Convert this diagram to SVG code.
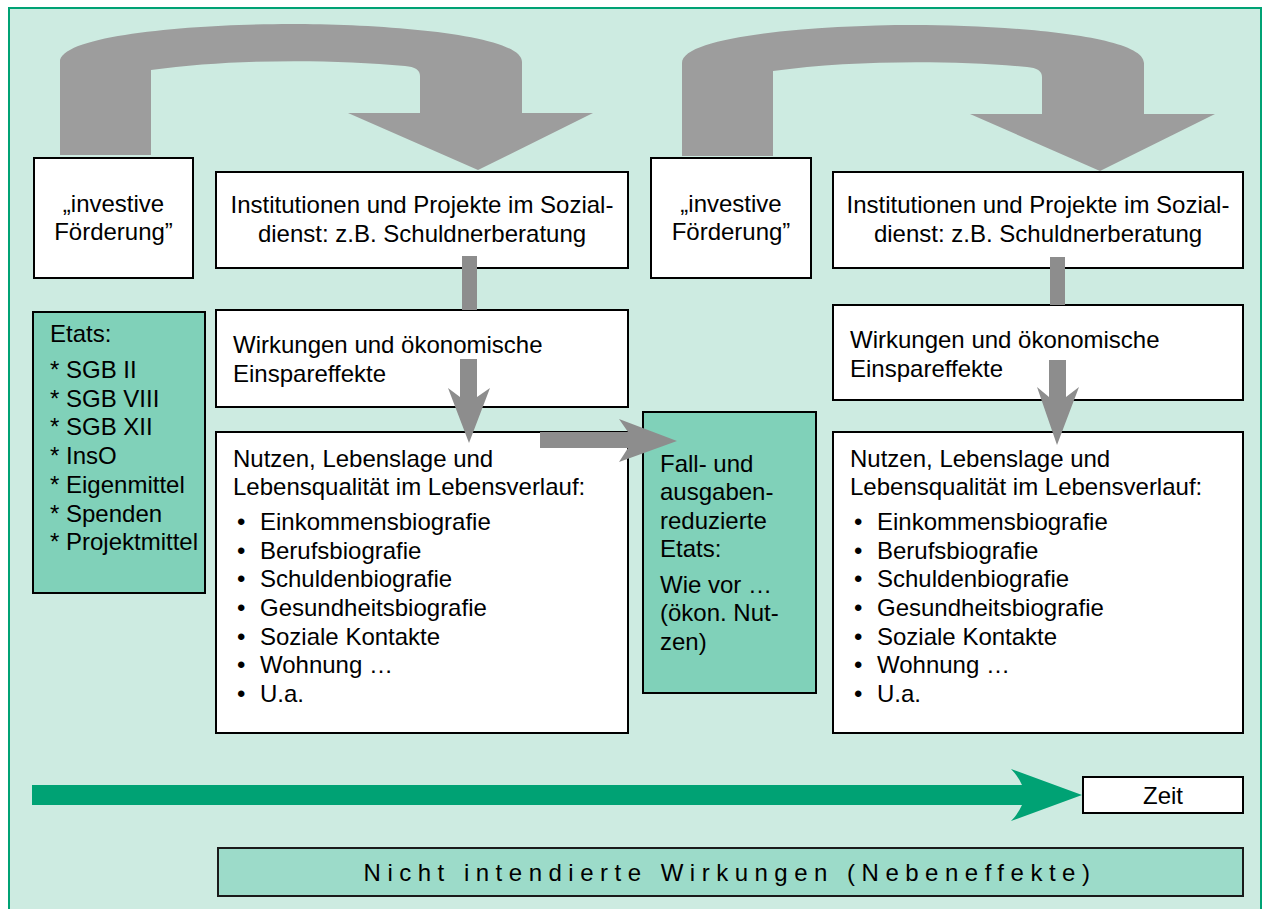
<svg xmlns="http://www.w3.org/2000/svg" width="1266" height="909" viewBox="0 0 1266 909">
<style>
  text { font-family: "Liberation Sans", Arial, sans-serif; font-size: 24px; fill: #000; }
  .c { text-anchor: middle; }
  .box { fill: #ffffff; stroke: #000; stroke-width: 2; }
  .teal { fill: #80d1b9; stroke: #000; stroke-width: 2; }
  .big { fill: #9d9d9d; }
  .small { fill: #8d8d8d; }
  .green { fill: #00a274; }
</style>
<rect x="9" y="8" width="1252" height="930" fill="#cdebe1" stroke="#00a274" stroke-width="2"/>

<g id="investive1"><rect class="box" x="34" y="158" width="159" height="120"/>
  <text class="c" x="113.5" y="212">„investive</text><text class="c" x="113.5" y="240">Förderung”</text></g>
<g id="institutionen1"><rect class="box" x="216" y="172" width="412" height="96"/>
  <text class="c" x="422" y="213">Institutionen und Projekte im Sozial-</text><text class="c" x="422" y="242">dienst: z.B. Schuldnerberatung</text></g>
<g id="etats"><rect class="teal" x="33" y="312" width="172" height="281"/>
  <text x="50" y="342">Etats:</text>
  <text x="50" y="378">* SGB II</text>
  <text x="50" y="407">* SGB VIII</text>
  <text x="50" y="435">* SGB XII</text>
  <text x="50" y="464">* InsO</text>
  <text x="50" y="493">* Eigenmittel</text>
  <text x="50" y="522">* Spenden</text>
  <text x="50" y="550">* Projektmittel</text></g>
<g id="wirkungen1"><rect class="box" x="216" y="310" width="412" height="97"/>
  <text x="233" y="353">Wirkungen und ökonomische</text><text x="233" y="382">Einspareffekte</text></g>
<g id="nutzen1"><rect class="box" x="216" y="432" width="412" height="301"/>
  <text x="233" y="467">Nutzen, Lebenslage und</text><text x="233" y="495">Lebensqualität im Lebensverlauf:</text>
  <text x="237" y="530">•</text><text x="260" y="530">Einkommensbiografie</text>
  <text x="237" y="559">•</text><text x="260" y="559">Berufsbiografie</text>
  <text x="237" y="587">•</text><text x="260" y="587">Schuldenbiografie</text>
  <text x="237" y="616">•</text><text x="260" y="616">Gesundheitsbiografie</text>
  <text x="237" y="645">•</text><text x="260" y="645">Soziale Kontakte</text>
  <text x="237" y="673">•</text><text x="260" y="673">Wohnung …</text>
  <text x="237" y="702">•</text><text x="260" y="702">U.a.</text></g>
<g id="fall"><rect class="teal" x="643" y="412" width="173" height="281"/>
  <text x="660" y="472">Fall- und</text>
  <text x="660" y="500">ausgaben-</text>
  <text x="660" y="529">reduzierte</text>
  <text x="660" y="557">Etats:</text>
  <text x="660" y="593">Wie vor …</text>
  <text x="660" y="621">(ökon. Nut-</text>
  <text x="660" y="650">zen)</text></g>

<g id="investive2"><rect class="box" x="651" y="158" width="160" height="120"/>
  <text class="c" x="731" y="212">„investive</text><text class="c" x="731" y="240">Förderung”</text></g>
<g id="institutionen2"><rect class="box" x="833" y="172" width="410" height="96"/>
  <text class="c" x="1038" y="213">Institutionen und Projekte im Sozial-</text><text class="c" x="1038" y="242">dienst: z.B. Schuldnerberatung</text></g>
<g id="wirkungen2"><rect class="box" x="833" y="305" width="410" height="95"/>
  <text x="850" y="348">Wirkungen und ökonomische</text><text x="850" y="377">Einspareffekte</text></g>
<g id="nutzen2"><rect class="box" x="833" y="432" width="410" height="301"/>
  <text x="850" y="467">Nutzen, Lebenslage und</text><text x="850" y="495">Lebensqualität im Lebensverlauf:</text>
  <text x="854" y="530">•</text><text x="877" y="530">Einkommensbiografie</text>
  <text x="854" y="559">•</text><text x="877" y="559">Berufsbiografie</text>
  <text x="854" y="587">•</text><text x="877" y="587">Schuldenbiografie</text>
  <text x="854" y="616">•</text><text x="877" y="616">Gesundheitsbiografie</text>
  <text x="854" y="645">•</text><text x="877" y="645">Soziale Kontakte</text>
  <text x="854" y="673">•</text><text x="877" y="673">Wohnung …</text>
  <text x="854" y="702">•</text><text x="877" y="702">U.a.</text></g>

<g id="zeit"><rect class="box" x="1083" y="777" width="160" height="36"/>
  <text class="c" x="1163" y="804">Zeit</text></g>
<g id="nebeneffekte"><rect x="218" y="848" width="1025" height="48" fill="#9cdbc9" stroke="#1a1a1a" stroke-width="2"/>
  <text class="c" x="730" y="881" letter-spacing="6.5">Nicht intendierte Wirkungen (Nebeneffekte)</text></g>

<g id="connectors">
  <path id="curve1" class="big" d="M60,155 L60,62 C60,34 200,24 291,24 C382,24 522,34 522,62 L522,113 L593,113 L478,170 L348,113 L420,113 L420,76 Q420,67 405,66 C330,59 230,59 151,70 L151,155 Z"/>
  <path id="curve2" class="big" transform="translate(622,1)" d="M60,155 L60,62 C60,34 200,24 291,24 C382,24 522,34 522,62 L522,113 L593,113 L478,170 L348,113 L420,113 L420,76 Q420,67 405,66 C330,59 230,59 151,70 L151,155 Z"/>
  <rect class="small" x="462" y="256" width="15" height="54"/>
  <rect class="small" x="1050" y="257" width="15" height="48"/>
  <path class="small" d="M460,359 L477,359 L477,397 L490,388 L469,443 L448,388 L460,397 Z"/>
  <path class="small" d="M1049,360 L1066,360 L1066,397 L1079,387 L1057,445 L1037,387 L1049,397 Z"/>
  <path class="small" d="M540,432 L628,432 L619,419 L677,441 L619,462 L628,448 L540,448 Z"/>
  <path class="green" d="M32,785 L1022,785 Q1018,776 1011,769 L1082,795 L1011,821 Q1018,814 1022,805 L32,805 Z"/>
</g>
</svg>
